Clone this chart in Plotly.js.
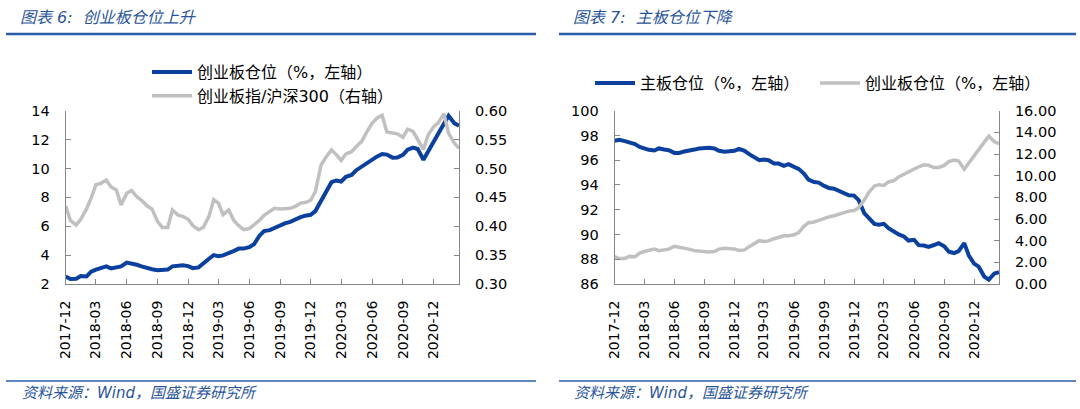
<!DOCTYPE html>
<html>
<head>
<meta charset="utf-8">
<script src="https://cdn.plot.ly/plotly-3.0.1.min.js"></script>
<style>
  html, body { margin: 0; padding: 0; background: #ffffff; }
  #chart { width: 1080px; height: 409px; }
</style>
</head>
<body>
<div id="chart"></div>
<script>
// ---- Data (semi-monthly readings, 2017-12 to 2021-02) ----
const dates = [
  '2017-12-01','2017-12-15',
  '2018-01-01','2018-01-15','2018-02-01','2018-02-15','2018-03-01','2018-03-15',
  '2018-04-01','2018-04-15','2018-05-01','2018-05-15','2018-06-01','2018-06-15',
  '2018-07-01','2018-07-15','2018-08-01','2018-08-15','2018-09-01','2018-09-15',
  '2018-10-01','2018-10-15','2018-11-01','2018-11-15','2018-12-01','2018-12-15',
  '2019-01-01','2019-01-15','2019-02-01','2019-02-15','2019-03-01','2019-03-15',
  '2019-04-01','2019-04-15','2019-05-01','2019-05-15','2019-06-01','2019-06-15',
  '2019-07-01','2019-07-15','2019-08-01','2019-08-15','2019-09-01','2019-09-15',
  '2019-10-01','2019-10-15','2019-11-01','2019-11-15','2019-12-01','2019-12-15',
  '2020-01-01','2020-01-15','2020-02-01','2020-02-15','2020-03-01','2020-03-15',
  '2020-04-01','2020-04-15','2020-05-01','2020-05-15','2020-06-01','2020-06-15',
  '2020-07-01','2020-07-15','2020-08-01','2020-08-15','2020-09-01','2020-09-15',
  '2020-10-01','2020-10-15','2020-11-01','2020-11-15','2020-12-01','2020-12-15',
  '2021-01-01','2021-01-15','2021-02-01','2021-02-15'
];

// 创业板仓位 (%)
const cybPosition = [
  2.52, 2.35, 2.36, 2.55, 2.52, 2.85, 3.00, 3.08, 3.22, 3.08,
  3.15, 3.22, 3.48, 3.42, 3.33, 3.22, 3.08, 3.02, 2.96, 2.95,
  3.00, 3.22, 3.30, 3.30, 3.24, 3.10, 3.15, 3.45, 3.75, 4.00,
  3.93, 3.98, 4.18, 4.28, 4.45, 4.45, 4.55, 4.75, 5.33, 5.66,
  5.73, 5.88, 6.10, 6.20, 6.30, 6.46, 6.63, 6.73, 6.79, 7.05,
  7.75, 8.45, 9.05, 9.17, 9.10, 9.42, 9.55, 9.88, 10.13, 10.36,
  10.55, 10.82, 11.00, 10.96, 10.75, 10.76, 10.95, 11.30, 11.45, 11.35,
  10.60, 11.20, 11.85, 12.40, 13.10, 13.65, 13.13, 12.95
];

// 创业板指/沪深300
const cybToHs300 = [
  0.435, 0.410, 0.402, 0.412, 0.430, 0.449, 0.472, 0.474, 0.480, 0.468,
  0.463, 0.437, 0.457, 0.462, 0.451, 0.445, 0.435, 0.430, 0.408, 0.398,
  0.398, 0.428, 0.419, 0.417, 0.412, 0.401, 0.394, 0.398, 0.417, 0.446,
  0.440, 0.420, 0.428, 0.411, 0.401, 0.394, 0.396, 0.402, 0.410, 0.419,
  0.425, 0.431, 0.430, 0.431, 0.431, 0.434, 0.440, 0.441, 0.445, 0.460,
  0.506, 0.519, 0.532, 0.524, 0.514, 0.525, 0.529, 0.538, 0.547, 0.562,
  0.578, 0.587, 0.592, 0.563, 0.561, 0.560, 0.554, 0.568, 0.564, 0.551,
  0.533, 0.558, 0.572, 0.579, 0.595, 0.561, 0.544, 0.535
];

// 主板仓位 (%)
const mainPosition = [
  97.57, 97.65, 97.54, 97.41, 97.30, 97.08, 96.92, 96.84, 96.78, 96.95,
  96.86, 96.81, 96.59, 96.59, 96.70, 96.81, 96.86, 96.95, 97.00, 97.00,
  96.95, 96.76, 96.68, 96.68, 96.76, 96.92, 96.76, 96.49, 96.22, 96.00,
  96.05, 96.00, 95.73, 95.73, 95.54, 95.68, 95.46, 95.30, 94.92, 94.43,
  94.24, 94.19, 93.92, 93.76, 93.70, 93.51, 93.27, 93.16, 93.14, 92.78,
  91.73, 91.30, 90.86, 90.78, 90.86, 90.51, 90.19, 90.00, 89.84, 89.51,
  89.57, 89.14, 89.11, 89.00, 89.15, 89.30, 89.05, 88.60, 88.50, 88.65,
  89.30, 88.30, 87.65, 87.40, 86.60, 86.35, 86.85, 86.95
];

const seriesNames = {
  cybLeft: '创业板仓位（%，左轴）',
  ratio: '创业板指/沪深300（右轴）',
  main: '主板仓位（%，左轴）',
  cybRight: '创业板仓位（%，左轴）'
};
const panelTitles = ['图表 6:\u00a0\u00a0创业板仓位上升', '图表 7:\u00a0\u00a0主板仓位下降'];
const sourceText = '资料来源：Wind，国盛证券研究所';

// ---- Styling ----
const W = 1080, H = 409;
const BLUE = '#0B409E';
const GRAY = '#C0C0C0';
const RULE = '#2A5CAA';
const AXIS = '#868686';
const NUM_FONT = 'DejaVu Sans, Noto Sans CJK SC, sans-serif';
const CJK_FONT = 'DejaVu Sans, Noto Sans CJK SC, sans-serif';
const px = v => v / W;
const py = v => 1 - v / H;

const yDomain = [py(284), py(110.7)];
const xRange = ['2017-12-01', '2021-02-15'];

function xAxis(domain, anchor) {
  return {
    domain: domain, anchor: anchor, type: 'date', range: xRange,
    tick0: '2017-12-01', dtick: 'M3', tickformat: '%Y-%m', tickangle: -90,
    ticks: 'inside', ticklen: 5, tickcolor: AXIS, tickwidth: 1,
    showline: true, linecolor: AXIS, linewidth: 1,
    showgrid: false, zeroline: false, fixedrange: true,
    tickfont: { family: NUM_FONT, size: 14, color: '#000' },
    ticklabelstandoff: 10
  };
}
function yAxis(domain, anchor, range, dtick, fmt, side, overlay) {
  const a = {
    domain: domain, anchor: anchor, range: range, dtick: dtick, tick0: range[0],
    ticks: 'inside', ticklen: 5, tickcolor: AXIS, tickwidth: 1,
    showline: true, linecolor: AXIS, linewidth: 1,
    showgrid: false, zeroline: false, fixedrange: true, side: side,
    tickfont: { family: NUM_FONT, size: 14.5, color: '#000' },
    ticklabelstandoff: 12
  };
  if (fmt) a.tickformat = fmt;
  if (overlay) a.overlaying = overlay;
  return a;
}

const traces = [
  { x: dates, y: cybPosition, name: seriesNames.cybLeft, type: 'scatter', mode: 'lines',
    xaxis: 'x', yaxis: 'y', legend: 'legend', line: { color: BLUE, width: 4 } },
  { x: dates, y: cybToHs300, name: seriesNames.ratio, type: 'scatter', mode: 'lines',
    xaxis: 'x', yaxis: 'y2', legend: 'legend', line: { color: GRAY, width: 3.5 } },
  { x: dates, y: mainPosition, name: seriesNames.main, type: 'scatter', mode: 'lines',
    xaxis: 'x2', yaxis: 'y3', legend: 'legend2', line: { color: BLUE, width: 4 } },
  { x: dates, y: cybPosition, name: seriesNames.cybRight, type: 'scatter', mode: 'lines',
    xaxis: 'x2', yaxis: 'y4', legend: 'legend3', line: { color: GRAY, width: 3.5 } }
];

const titleFont = { family: CJK_FONT, size: 16, color: '#2A5599', style: 'italic' };
const srcFont = { family: CJK_FONT, size: 15, color: '#2A5599', style: 'italic' };
const legendFont = { family: CJK_FONT, size: 16, color: '#000' };
function legendBox(x, y, orient) {
  return {
    x: px(x), y: py(y), xanchor: 'left', yanchor: 'top', orientation: orient,
    bgcolor: 'rgba(0,0,0,0)', borderwidth: 0, tracegroupgap: 0,
    font: legendFont, itemwidth: 40
  };
}

const layout = {
  width: W, height: H,
  margin: { l: 0, r: 0, t: 0, b: 0 },
  paper_bgcolor: '#ffffff', plot_bgcolor: 'rgba(0,0,0,0)',
  showlegend: true,
  xaxis: xAxis([px(65.7), px(459)], 'y'),
  yaxis: yAxis(yDomain, 'x', [2, 14], 2, null, 'left'),
  yaxis2: yAxis(yDomain, 'x', [0.30, 0.60], 0.05, '.2f', 'right', 'y'),
  xaxis2: xAxis([px(614.7), px(999)], 'y3'),
  yaxis3: yAxis(yDomain, 'x2', [86, 100], 2, null, 'left'),
  yaxis4: yAxis(yDomain, 'x2', [0, 16], 2, '.2f', 'right', 'y3'),
  legend: legendBox(147, 55, 'v'),
  legend2: legendBox(590, 66, 'h'),
  legend3: legendBox(815, 66, 'h'),
  annotations: [
    { text: panelTitles[0], xref: 'paper', yref: 'paper', x: px(18), y: py(17),
      xanchor: 'left', yanchor: 'middle', showarrow: false, font: titleFont },
    { text: panelTitles[1], xref: 'paper', yref: 'paper', x: px(571), y: py(17),
      xanchor: 'left', yanchor: 'middle', showarrow: false, font: titleFont },
    { text: sourceText, xref: 'paper', yref: 'paper', x: px(20), y: py(393),
      xanchor: 'left', yanchor: 'middle', showarrow: false, font: srcFont },
    { text: sourceText, xref: 'paper', yref: 'paper', x: px(572), y: py(393),
      xanchor: 'left', yanchor: 'middle', showarrow: false, font: srcFont }
  ],
  shapes: [
    { type: 'line', xref: 'paper', yref: 'paper', x0: px(6), x1: px(536), y0: py(34), y1: py(34),
      line: { color: RULE, width: 2.5 } },
    { type: 'line', xref: 'paper', yref: 'paper', x0: px(559), x1: px(1076), y0: py(34), y1: py(34),
      line: { color: RULE, width: 2.5 } },
    { type: 'line', xref: 'paper', yref: 'paper', x0: px(6), x1: px(536), y0: py(381), y1: py(381),
      line: { color: RULE, width: 1.5 } },
    { type: 'line', xref: 'paper', yref: 'paper', x0: px(559), x1: px(1076), y0: py(381), y1: py(381),
      line: { color: RULE, width: 1.5 } }
  ]
};

Plotly.newPlot('chart', traces, layout, { displayModeBar: false, staticPlot: true });
</script>
</body>
</html>
